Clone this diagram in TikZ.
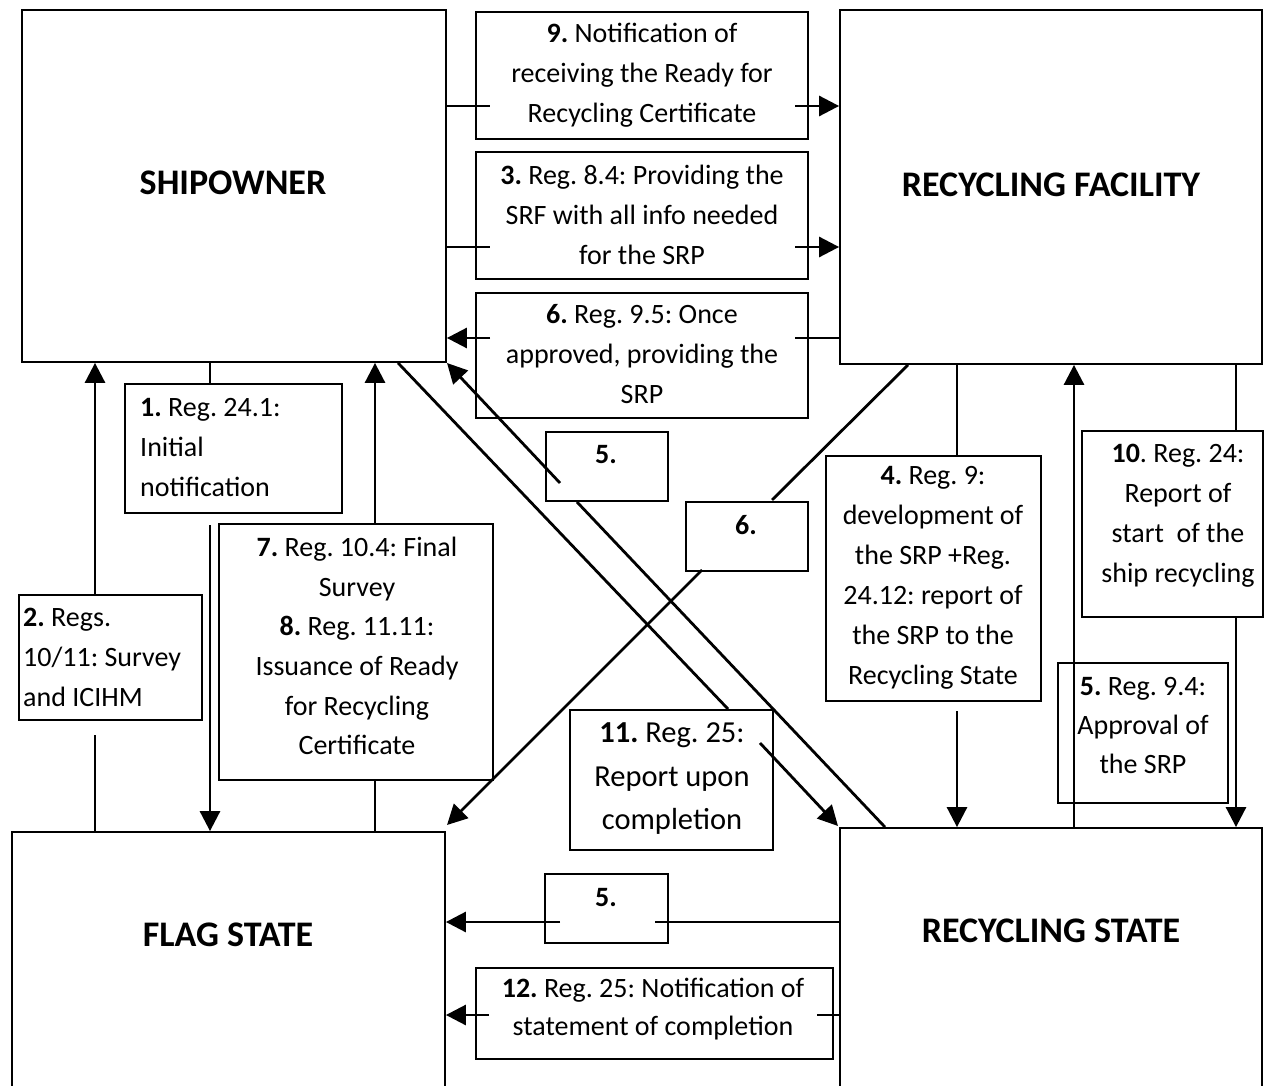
\documentclass[tikz,border=0pt]{standalone}
\usepackage{fontspec}
\setmainfont{Carlito}
\frenchspacing
\usetikzlibrary{arrows.meta}
\tikzset{
  bigbox/.style={draw, line width=1.8pt, fill=white, inner sep=0pt},
  lbox/.style={draw, line width=1.8pt, fill=white, inner sep=0pt},
  titletxt/.style={font=\fontsize{36}{43}\selectfont\bfseries, inner sep=0pt},
  txt/.style={font=\fontsize{28}{40}\selectfont\frenchspacing, align=center, inner sep=0pt},
  conn/.style={line width=2.8pt},
  arr/.style={line width=2.8pt, -{Triangle[length=20pt,width=20pt]}},
}
\begin{document}
\begin{tikzpicture}[x=1pt,y=-1pt]
\useasboundingbox (0,0) rectangle (1264,1086);
\clip (0,0) rectangle (1264,1086);
\fill[white] (0,0) rectangle (1264,1086);

% main boxes
\node[bigbox, minimum width=424pt, minimum height=352pt] (ship) at (234,186) {};
\node[bigbox, minimum width=422pt, minimum height=354pt] (fac) at (1051,187) {};
\node[bigbox, minimum width=433pt, minimum height=268pt] (flag) at (228.5,966) {};
\node[bigbox, minimum width=422pt, minimum height=272pt] (rstate) at (1051,964) {};

\node[titletxt] (shipT) at (233,183) {SHIPOWNER};
\node[titletxt] (facT) at (1051,185) {RECYCLING FACILITY};
\node[titletxt] (flagT) at (228,935) {FLAG STATE};
\node[titletxt] (rstateT) at (1051,931) {RECYCLING STATE};

% label boxes
\node[lbox, minimum width=332pt, minimum height=127pt] (b9) at (642,75.5) {};
\node[lbox, minimum width=332pt, minimum height=127pt] (b3) at (642,215.5) {};
\node[lbox, minimum width=332pt, minimum height=125pt] (b6) at (642,355.5) {};
\node[lbox, minimum width=217pt, minimum height=129pt] (b1) at (233.5,448.5) {};
\node[lbox, minimum width=183pt, minimum height=125pt] (b2) at (110.5,657.5) {};
\node[lbox, minimum width=274pt, minimum height=256pt] (b78) at (356,652) {};
\node[lbox, minimum width=122pt, minimum height=69pt] (b5a) at (607,466.5) {};
\node[lbox, minimum width=122pt, minimum height=69pt] (b6a) at (747,536.5) {};
\node[lbox, minimum width=203pt, minimum height=140pt] (b11) at (671.5,780) {};
\node[lbox, minimum width=215pt, minimum height=245pt] (b4) at (933.5,578.5) {};
\node[lbox, minimum width=181pt, minimum height=186pt] (b10) at (1172.5,524) {};
\node[draw, line width=1.8pt, inner sep=0pt, minimum width=170pt, minimum height=140pt] (b5b) at (1143,733) {};
\node[lbox, minimum width=123pt, minimum height=69pt] (b5c) at (606.5,908.5) {};
\node[lbox, minimum width=357pt, minimum height=91pt] (b12) at (654.5,1013.5) {};

% label texts
\node[txt] (t9) at (642,75) {\textbf{9.} Notification of\\receiving the Ready for\\Recycling Certificate};
\node[txt] (t3) at (642,215) {\textbf{3.} Reg. 8.4: Providing the\\SRF with all info needed\\for the SRP};
\node[txt] (t6) at (642,354) {\textbf{6.} Reg. 9.5: Once\\approved, providing the\\SRP};
\node[txt, align=left, anchor=west] (t1) at (140,448) {\textbf{1.} Reg. 24.1:\\Initial\\notification};
\node[txt, align=left, anchor=west] (t2) at (23,657) {\textbf{2.} Regs.\\10/11: Survey\\and ICIHM};
\node[txt, font=\fontsize{28}{39.6}\selectfont] (t78) at (357,646) {\textbf{7.} Reg. 10.4: Final\\Survey\\\textbf{8.} Reg. 11.11:\\Issuance of Ready\\for Recycling\\Certificate};
\node[txt] (t5a) at (606,455) {\textbf{5.}};
\node[txt] (t6a) at (746,525) {\textbf{6.}};
\node[txt, font=\fontsize{30.5}{43.5}\selectfont] (t11) at (672,779) {\textbf{11.} Reg. 25:\\Report upon\\completion};
\node[txt] (t4) at (933,578) {\textbf{4.} Reg. 9:\\development of\\the SRP +Reg.\\24.12: report of\\the SRP to the\\Recycling State};
\node[txt] (t10) at (1178,516) {\textbf{10}. Reg. 24:\\Report of\\start~ of the\\ship recycling};
\node[txt, font=\fontsize{28}{39}\selectfont] (t5b) at (1143,726) {\textbf{5.} Reg. 9.4:\\Approval of\\the SRP};
\node[txt] (t5c) at (606,898) {\textbf{5.}};
\node[txt, font=\fontsize{28}{38}\selectfont] (t12) at (653,1009) {\textbf{12.} Reg. 25: Notification of\\statement of completion};

% connectors between shipowner and recycling facility
\draw[conn] (ship.east |- 0,106) -- (490,106);
\draw[arr] (795,106) -- (fac.west |- 0,106);
\draw[conn] (ship.east |- 0,247) -- (490,247);
\draw[arr] (795,247) -- (fac.west |- 0,247);
\draw[conn] (fac.west |- 0,338) -- (795,338);
\draw[arr] (490,338) -- (ship.east |- 0,338);

% shipowner <-> flag state
\draw[conn] (ship.south -| 210,0) -- (b1.north -| 210,0);
\draw[arr] (210,525) -- (flag.north -| 210,0);
\draw[conn] (flag.north -| 95,0) -- (95,735);
\draw[arr] (b2.north -| 95,0) -- (ship.south -| 95,0);
\draw[conn] (flag.north -| 375,0) -- (b78.south -| 375,0);
\draw[arr] (b78.north -| 375,0) -- (ship.south -| 375,0);

% diagonals
\draw[conn] (ship.south -| 398,0) -- (728,709);
\draw[arr] (760,743) -- (838,826);
\draw[conn] (rstate.north -| 885,0) -- (577,502);
\draw[arr] (560,483) -- (447,363);
\draw[conn] (fac.south -| 908,0) -- (772,500);
\draw[arr] (702,570) -- (447,825);

% recycling facility <-> recycling state
\draw[conn] (fac.south -| 957,0) -- (b4.north -| 957,0);
\draw[arr] (957,711) -- (rstate.north -| 957,0);
\draw[arr] (rstate.north -| 1074,0) -- (fac.south -| 1074,0);
\draw[conn] (fac.south -| 1236,0) -- (b10.north -| 1236,0);
\draw[arr] (b10.south -| 1236,0) -- (rstate.north -| 1236,0);

% recycling state -> flag state
\draw[conn] (rstate.west |- 0,922) -- (655,922);
\draw[arr] (560,922) -- (flag.east |- 0,922);
\draw[conn] (rstate.west |- 0,1015) -- (817,1015);
\draw[arr] (489,1015) -- (flag.east |- 0,1015);
\end{tikzpicture}
\end{document}
